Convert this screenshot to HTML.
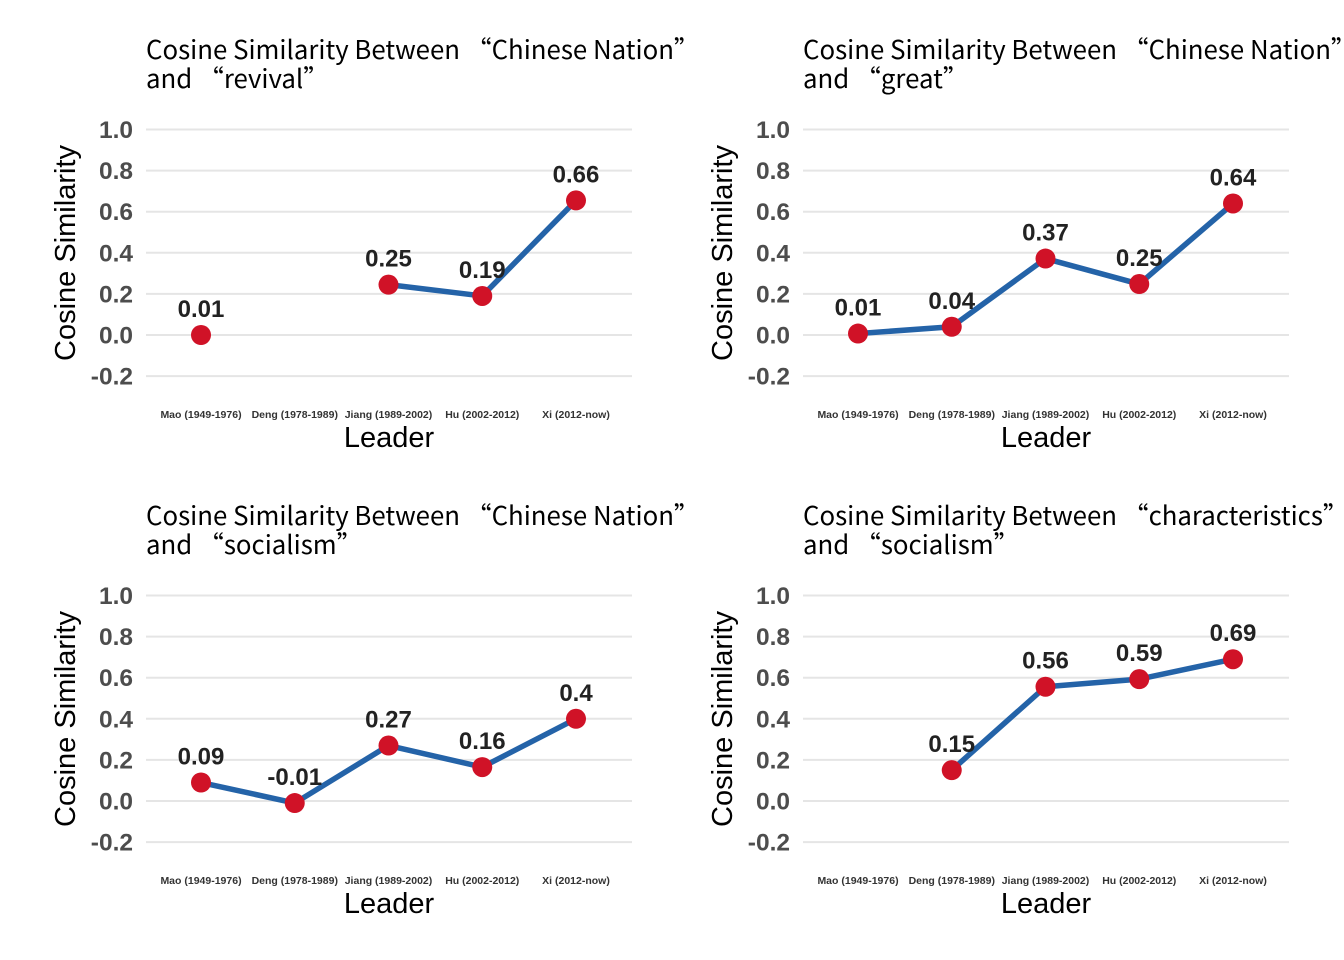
<!DOCTYPE html>
<html><head><meta charset="utf-8"><style>
body{margin:0;background:#fff;}
svg{display:block}
.title{font-family:"WenQuanYi Zen Hei","Noto Sans CJK SC",sans-serif;font-size:25.8px;fill:#000}
.tick{font-family:"Liberation Sans",sans-serif;font-weight:bold;font-size:24.5px;fill:#4d4d4d}
.xt{font-family:"Liberation Sans",sans-serif;font-weight:bold;font-size:10.5px;fill:#333}
.axt{font-family:"Liberation Sans",sans-serif;font-size:29px;fill:#000}
.val{font-family:"Liberation Sans",sans-serif;font-weight:bold;font-size:24px;fill:#222}
</style></head><body>
<svg id="c" width="1344" height="960"></svg>
<script>
const categories=["Mao (1949-1976)","Deng (1978-1989)","Jiang (1989-2002)","Hu (2002-2012)","Xi (2012-now)"];
const yTicks=[1.0,0.8,0.6,0.4,0.2,0.0,-0.2];
const yTickLabels=["1.0","0.8","0.6","0.4","0.2","0.0","-0.2"];
const titlesLine1=["Cosine Similarity Between \u201cChinese Nation\u201d","Cosine Similarity Between \u201cChinese Nation\u201d","Cosine Similarity Between \u201cChinese Nation\u201d","Cosine Similarity Between \u201ccharacteristics\u201d"];
const titlesLine2=["and \u201crevival\u201d","and \u201cgreat\u201d","and \u201csocialism\u201d","and \u201csocialism\u201d"];
const seriesRevival=[0.00,null,0.245,0.19,0.655];
const seriesGreat=[0.007,0.04,0.372,0.248,0.64];
const seriesSocialism=[0.09,-0.01,0.27,0.165,0.40];
const seriesCharSoc=[null,0.15,0.556,0.593,0.69];
const labelsRevival=["0.01",null,"0.25","0.19","0.66"];
const labelsGreat=["0.01","0.04","0.37","0.25","0.64"];
const labelsSocialism=["0.09","-0.01","0.27","0.16","0.4"];
const labelsCharSoc=[null,"0.15","0.56","0.59","0.69"];
const allSeries=[seriesRevival,seriesGreat,seriesSocialism,seriesCharSoc];
const allLabels=[labelsRevival,labelsGreat,labelsSocialism,labelsCharSoc];

const svg=document.getElementById('c');
const NS='http://www.w3.org/2000/svg';
function mk(t,a,p){const e=document.createElementNS(NS,t);for(const k in a)e.setAttribute(k,a[k]);(p||svg).appendChild(e);return e;}
const offsets=[[0,0],[657,0],[0,466],[657,466]];
for(let p=0;p<4;p++){
  const [ox,oy]=offsets[p];
  const g=mk('g',{});
  
  
  const yS=v=>oy+335-v*205.5;
  const xS=i=>ox+201+i*93.75;
  const t1=mk('text',{x:ox+146,y:oy+59,class:'title'},g);t1.textContent=titlesLine1[p];
  
  
  const t2=mk('text',{x:ox+146,y:oy+88,class:'title'},g);t2.textContent=titlesLine2[p];
  
  
  yTicks.forEach((v,i)=>{
    const l=mk('line',{x1:ox+146,x2:ox+632,y1:yS(v),y2:yS(v),stroke:'#e5e5e5','stroke-width':2},g);
    
    
    const tx=mk('text',{x:ox+133,y:yS(v)+8.5,class:'tick','text-anchor':'end'},g);tx.textContent=yTickLabels[i];
    
    
  });
  categories.forEach((c,i)=>{
    const tx=mk('text',{x:xS(i),y:oy+418,class:'xt','text-anchor':'middle'},g);tx.textContent=c;
    
    
  });
  const xa=mk('text',{x:ox+389,y:oy+447,class:'axt','text-anchor':'middle'},g);xa.textContent='Leader';
  
  
  const ya=mk('text',{x:0,y:0,class:'axt','text-anchor':'middle',transform:`translate(${ox+75},${oy+253}) rotate(-90)`},g);ya.textContent='Cosine Similarity';
  
  
  const s=allSeries[p];
  let d='';let pen=false;
  s.forEach((v,i)=>{if(v===null){pen=false;return;}d+=(pen?'L':'M')+xS(i)+' '+yS(v)+' ';pen=true;});
  const path=mk('path',{d:d,fill:'none',stroke:'#2463a8','stroke-width':5.5,'stroke-linejoin':'round'},g);
  
  
  s.forEach((v,i)=>{
    if(v===null)return;
    const c=mk('circle',{cx:xS(i),cy:yS(v),r:10,fill:'#d01227'},g);
    
    
    const tx=mk('text',{x:xS(i),y:yS(v)-18,class:'val','text-anchor':'middle'},g);tx.textContent=allLabels[p][i];
    
    
  });
}
</script>
</body></html>
